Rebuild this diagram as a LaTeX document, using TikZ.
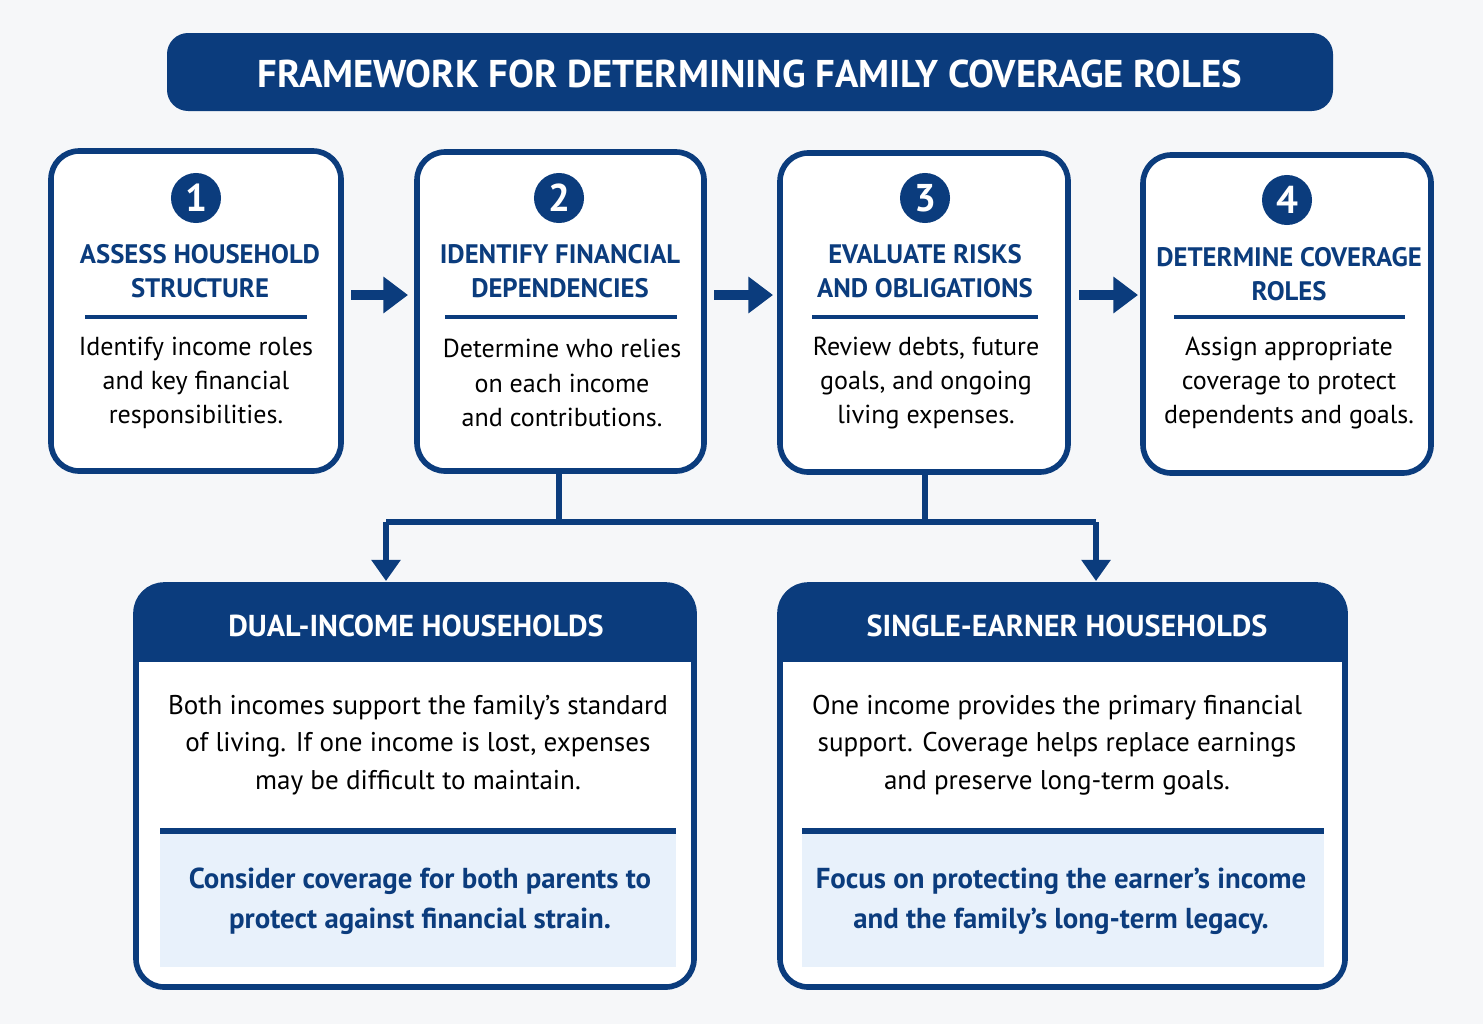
\documentclass[tikz,border=0pt]{standalone}
\usepackage{fontspec}
\setmainfont{PT Sans}
\usepackage{xcolor}
\usetikzlibrary{shapes,arrows.meta}
\definecolor{navy}{HTML}{0B3C7D}
\definecolor{panel}{HTML}{E8F1FB}
\definecolor{bgc}{HTML}{F6F7F9}

\begin{document}
\begin{tikzpicture}[x=0.01cm,y=-0.01cm,
  stepbox/.style={draw=navy, line width=1.6pt, rounded corners=8pt, fill=white},
  num/.style={circle, fill=navy, text=white, minimum size=0.5cm, inner sep=0pt, font=\fontsize{11pt}{11pt}\selectfont\bfseries},
  stitle/.style={text=navy, align=center, font=\fontsize{7.6pt}{9.6pt}\selectfont\bfseries},
  sbody/.style={align=center, font=\fontsize{7.4pt}{9.7pt}\selectfont},
  flow/.style={navy, line width=3pt, -{Triangle[length=7pt,width=10pt]}},
  link/.style={navy, line width=1.6pt},
  drop/.style={navy, line width=1.6pt, -{Triangle[length=6pt,width=8pt]}},
  head/.style={text=white, font=\fontsize{8.6pt}{10pt}\selectfont\bfseries},
  bbody/.style={align=center, font=\fontsize{7.7pt}{10.6pt}\selectfont},
  bnote/.style={align=center, text=navy, font=\fontsize{8.2pt}{11.4pt}\selectfont\bfseries}]
\fill[bgc] (0,0) rectangle (1483,1024);
\useasboundingbox (0,0) rectangle (1483,1024);

% title banner
\fill[navy, rounded corners=6pt] (167,33) rectangle (1333,111);
\node[text=white, font=\fontsize{11pt}{11pt}\selectfont\bfseries] (title) at (750,74) {FRAMEWORK FOR DETERMINING FAMILY COVERAGE ROLES};

% steps
\draw[stepbox] (51,151) rectangle (341,471);
\coordinate (s1b) at (196,471);
\node[num] (n1) at (196,198) {1};
\node[stitle] (t1) at (200,271) {ASSESS HOUSEHOLD\\STRUCTURE};
\draw[navy, line width=0.9pt] (85,317) -- (307,317);
\node[sbody] (b1) at (196,383) {Identify income roles\\and key financial\\responsibilities.};

\draw[stepbox] (417,152) rectangle (704,471);
\coordinate (s2b) at (559,471);
\node[num] (n2) at (559,198) {2};
\node[stitle] (t2) at (560,271) {IDENTIFY FINANCIAL\\DEPENDENCIES};
\draw[navy, line width=0.9pt] (445,317) -- (677,317);
\node[sbody] (b2) at (562,383) {Determine who relies\\on each income\\and contributions.};

\draw[stepbox] (780,153) rectangle (1068,472);
\coordinate (s3b) at (925,472);
\node[num] (n3) at (925,198) {3};
\node[stitle] (t3) at (925,271) {EVALUATE RISKS\\AND OBLIGATIONS};
\draw[navy, line width=0.9pt] (812,317) -- (1038,317);
\node[sbody] (b3) at (926,383) {Review debts, future\\goals, and ongoing\\living expenses.};

\draw[stepbox] (1143,155) rectangle (1431,473);
\node[num] (n4) at (1287,200) {4};
\node[stitle] (t4) at (1289,274) {DETERMINE COVERAGE\\ROLES};
\draw[navy, line width=0.9pt] (1174,317) -- (1405,317);
\node[sbody] (b4) at (1289,383) {Assign appropriate\\coverage to protect\\dependents and goals.};

% flow arrows
\coordinate (a1) at (351,295); \coordinate (a2) at (408,295);
\coordinate (a3) at (714,295); \coordinate (a4) at (773,295);
\coordinate (a5) at (1079,295); \coordinate (a6) at (1138,295);
\draw[flow] (a1) -- (a2);
\draw[flow] (a3) -- (a4);
\draw[flow] (a5) -- (a6);

% connectors
\coordinate (jl) at (386,522); \coordinate (jr) at (1096,522);
\coordinate (dl) at (386,581); \coordinate (dr) at (1096,581);
\draw[link] (s2b) -- (559,522);
\draw[link] (s3b) -- (925,522);
\draw[link] (jl) -- (jr);
\draw[drop] (jl) -- (dl);
\draw[drop] (jr) -- (dr);

% dual-income
\fill[white, rounded corners=8pt] (136,585) rectangle (694,987);
\fill[navy, rounded corners=8pt] (136,585) rectangle (694,640);
\fill[navy] (136,620) rectangle (694,662);
\fill[panel] (160,833) rectangle (676,967);
\draw[navy, line width=1.6pt] (160,831) -- (676,831);
\draw[navy, line width=1.6pt, rounded corners=8pt] (136,585) rectangle (694,987);
\node[head] (h1) at (416,626) {DUAL-INCOME HOUSEHOLDS};
\node[bbody] (d1) at (418,745) {Both incomes support the family’s standard\\of living. If one income is lost, expenses\\may be difficult to maintain.};
\node[bnote] (c1) at (420,901) {Consider coverage for both parents to\\protect against financial strain.};

% single-earner
\fill[white, rounded corners=8pt] (780,585) rectangle (1345,987);
\fill[navy, rounded corners=8pt] (780,585) rectangle (1345,640);
\fill[navy] (780,620) rectangle (1345,662);
\fill[panel] (802,833) rectangle (1324,967);
\draw[navy, line width=1.6pt] (802,831) -- (1324,831);
\draw[navy, line width=1.6pt, rounded corners=8pt] (780,585) rectangle (1345,987);
\node[head] (h2) at (1067,626) {SINGLE-EARNER HOUSEHOLDS};
\node[bbody] (d2) at (1057,745) {One income provides the primary financial\\support. Coverage helps replace earnings\\and preserve long-term goals.};
\node[bnote] (c2) at (1061,901) {Focus on protecting the earner’s income\\and the family’s long-term legacy.};
\end{tikzpicture}
\end{document}
